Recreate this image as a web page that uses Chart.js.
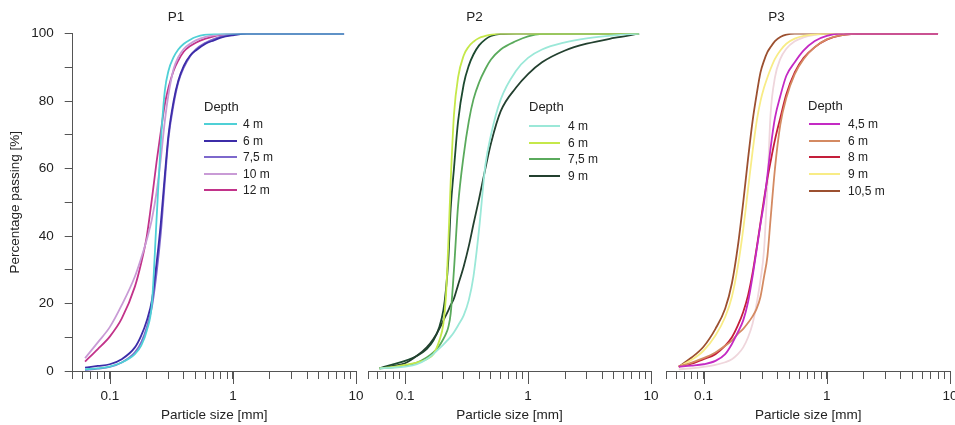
<!DOCTYPE html>
<html>
<head>
<meta charset="utf-8">
<script src="https://cdn.jsdelivr.net/npm/chart.js@4.4.1/dist/chart.umd.min.js"></script>
<style>
  html, body { margin: 0; padding: 0; background: #fff; width: 955px; height: 425px; overflow: hidden; }
  body { position: relative; font-family: "Liberation Sans", Arial, sans-serif; color: #222; }
  canvas { position: absolute; top: 0; }
  .lg { position: absolute; white-space: nowrap; line-height: 16px; height: 16px; }
  .sw { position: absolute; height: 2px; }
</style>
</head>
<body>
<canvas id="p1" width="370" height="425" style="left:-4px"></canvas>
<canvas id="p2" width="363" height="425" style="left:298px"></canvas>
<canvas id="p3" width="357" height="425" style="left:603px"></canvas>
<script>
// ===============================
// Data
// ===============================
const xTickValues = [0.05, 0.06, 0.07, 0.08, 0.09, 0.1, 0.2, 0.3, 0.4, 0.5, 0.6, 0.7, 0.8, 0.9,
  1, 2, 3, 4, 5, 6, 7, 8, 9, 10];
const xMajorTicks = [0.1, 1, 10];

// P1
const p1Sizes = [0.063, 0.08, 0.1, 0.125, 0.16, 0.18, 0.2, 0.22, 0.24, 0.26, 0.28, 0.3, 0.33, 0.36,
  0.4, 0.45, 0.5, 0.6, 0.7, 0.8, 1, 1.3, 2, 4, 8];
const p1Depth4 = [0.5, 0.8, 1.3, 2.5, 5, 7.5, 12, 20, 45, 68, 83, 89, 93, 95.3, 97, 98.2, 99, 99.7, 99.9, 100, 100, 100, 100, 100, 100];
const p1Depth6 = [1, 1.5, 2, 3.5, 7, 10.5, 15, 21, 32, 44, 58, 70, 80, 86, 90.5, 93.5, 95, 97, 98, 98.8, 99.5, 100, 100, 100, 100];
const p1Depth75 = [0.3, 0.7, 1.2, 2.5, 5.5, 8.5, 13, 19, 29, 41, 56, 69, 79, 85.5, 90, 93.3, 95.3, 97.3, 98.4, 99.1, 99.7, 100, 100, 100, 100];
const p1Depth10 = [3.8, 8.5, 13, 19.5, 28, 33.5, 39, 45, 53, 63, 74, 82, 89.5, 93, 95.5, 97, 98, 99, 99.5, 99.8, 100, 100, 100, 100, 100];
const p1Depth12 = [2.8, 6.5, 10.2, 15.5, 25, 32, 40, 51, 62, 71, 79, 84, 89, 92, 94.7, 96.3, 97.3, 98.5, 99.2, 99.6, 99.9, 100, 100, 100, 100];
const p1Labels = ["4 m", "6 m", "7,5 m", "10 m", "12 m"];
const p1Colors = ["#4fd0d6", "#3c2ca8", "#7d68cc", "#c99bd6", "#c2338a"];

// P2
const p2Sizes = [0.062, 0.08, 0.1, 0.125, 0.15, 0.17, 0.19, 0.205, 0.215, 0.225, 0.235, 0.25, 0.27, 0.3,
  0.33, 0.36, 0.4, 0.45, 0.5, 0.6, 0.8, 1, 1.3, 2, 3, 5, 8];
const p2Depth4 = [0.8, 1, 1.3, 2, 3.5, 5, 6.7, 7.8, 8.6, 9.4, 10.2, 11.5, 13.5, 16.5, 21, 28, 42, 61, 70, 80.5, 89, 92.8, 95.3, 97.4, 98.6, 99.5, 100];
const p2Depth6 = [0.8, 1.2, 1.8, 2.5, 3.5, 5, 9, 14, 22, 38, 56, 76, 87, 93.5, 96.2, 97.6, 98.7, 99.3, 99.7, 100, 100, 100, 100, 100, 100, 100, 100];
const p2Depth75 = [0.8, 1.1, 1.6, 2.5, 4, 5.5, 7.5, 9.5, 11, 13, 17, 30, 49, 64, 74, 80.5, 85.5, 89.5, 92.3, 95.3, 97.8, 99.2, 99.9, 100, 100, 100, 100];
const p2Depth9 = [0.8, 1.5, 2.3, 4.5, 7, 9.5, 12.5, 15, 16.5, 18, 19.5, 21.5, 25.5, 31, 37, 43.5, 51, 60, 67.5, 77, 84, 88, 91.5, 95, 97, 98.7, 100];
const p2Extra = [0.8, 2, 3, 4.5, 6.5, 9, 13, 18, 24, 33, 48, 60, 74, 85, 90.5, 93.8, 96.5, 98.3, 99.3, 99.9, 100, 100, 100, 100, 100, 100, 100];
const p2Labels = ["4 m", "6 m", "7,5 m", "9 m", ""];
const p2Colors = ["#9be8d8", "#c5e84a", "#5aaa5c", "#23402f", "#1d4a30"];

// P3
const p3Sizes = [0.063, 0.08, 0.1, 0.125, 0.15, 0.17, 0.19, 0.21, 0.23, 0.25, 0.27, 0.29, 0.31, 0.33,
  0.35, 0.38, 0.42, 0.47, 0.55, 0.65, 0.8, 1, 1.3, 2, 4, 8];
const p3Depth45 = [1.3, 1.6, 2, 3, 5, 8, 11.5, 15, 20.5, 28, 36, 43.5, 50, 58, 66, 75, 81.5, 87.5, 91.5, 95, 97.8, 99.3, 100, 100, 100, 100];
const p3Depth6 = [1.3, 2.5, 3.8, 5.5, 7.5, 9, 11, 12.5, 14.3, 16.2, 18.5, 22, 28, 34, 45, 60, 73, 81, 88, 92.5, 96, 98.3, 99.5, 100, 100, 100];
const p3Depth8 = [1.3, 2.2, 3.5, 5, 7.5, 10, 13.5, 17.5, 22.5, 29, 36.5, 44, 51, 57, 62, 68.5, 75, 82, 88.5, 92.8, 96, 98.2, 99.5, 100, 100, 100];
const p3Depth9 = [1.3, 3.3, 6, 10.5, 16, 22, 31, 42, 54, 65, 74, 80, 84, 87, 89.5, 92.5, 95, 97, 98.5, 99.3, 99.8, 100, 100, 100, 100, 100];
const p3Depth105 = [1.3, 4, 7.2, 12.5, 18.5, 26, 37, 50, 63, 74, 82, 88.5, 92, 94.5, 96, 97.8, 99, 99.7, 100, 100, 100, 100, 100, 100, 100, 100];
const p3Extra = [0.5, 0.8, 1.2, 1.8, 2.6, 3.5, 5, 7, 10, 14, 20, 27, 36, 55, 76, 87, 92.5, 95.5, 97.7, 98.9, 99.6, 100, 100, 100, 100, 100];
const p3Labels = ["4,5 m", "6 m", "8 m", "9 m", "10,5 m", ""];
const p3Colors = ["#c42ac4", "#d48a62", "#c41e3a", "#f8ec86", "#9c5030", "#efd6dc"];

// ===============================
// Style
// ===============================
const AXIS = "#555";
const TXT = "#222";
const FONT = '"Liberation Sans", Arial, sans-serif';

// marcas maiores em 0.1, 1, 10
const majorTickPlugin = {
  id: "majorTicks",
  afterDraw(chart) {
    const sc = chart.scales.x;
    const c = chart.ctx;
    c.save();
    c.strokeStyle = AXIS;
    c.lineWidth = 1;
    xMajorTicks.forEach(v => {
      const px = Math.round(sc.getPixelForValue(v)) + 0.5;
      c.beginPath();
      c.moveTo(px, sc.top);
      c.lineTo(px, sc.top + 13);
      c.stroke();
    });
    c.restore();
  }
};

function makePanel(id, title, sizes, seriesList, labels, colors, yWidth, showY) {
  const datasets = seriesList.map((vals, k) => ({
    label: labels[k],
    data: sizes.map((x, i) => ({ x: x, y: vals[i] })),
    borderColor: colors[k],
    backgroundColor: colors[k],
    borderWidth: 1.8,
    pointRadius: 0,
    fill: false,
    cubicInterpolationMode: "monotone"
  }));

  return new Chart(document.getElementById(id), {
    type: "line",
    data: { datasets: datasets },
    plugins: [majorTickPlugin],
    options: {
      responsive: false,
      animation: false,
      layout: { padding: { left: 0, right: 10, top: 0, bottom: 0 } },
      plugins: {
        legend: { display: false },
        tooltip: { enabled: false },
        title: {
          display: true,
          text: title,
          color: TXT,
          font: { family: FONT, size: 13.5, weight: "normal" },
          padding: { top: 9, bottom: 8.4 }
        }
      },
      scales: {
        x: {
          type: "logarithmic",
          min: 0.05,
          max: 10,
          afterBuildTicks: sc => {
            sc.ticks = xTickValues.map(v => ({ value: v }));
          },
          afterFit: sc => {
            sc.height = 54;
            sc.paddingLeft = 0;
            sc.paddingRight = 0;
          },
          ticks: {
            autoSkip: false,
            maxRotation: 0,
            padding: 9,
            color: TXT,
            font: { family: FONT, size: 13.5 },
            callback: v => (xMajorTicks.includes(v) ? String(v) : "")
          },
          grid: { drawOnChartArea: false, tickLength: 8, tickColor: AXIS },
          border: { color: AXIS },
          title: {
            display: true,
            text: "Particle size [mm]",
            color: TXT,
            font: { family: FONT, size: 13.5 },
            padding: { top: 0, bottom: 2 }
          }
        },
        y: {
          min: 0,
          max: 100,
          afterFit: sc => { sc.width = yWidth; },
          ticks: {
            display: showY,
            stepSize: 10,
            padding: 11,
            color: TXT,
            font: { family: FONT, size: 13.5 },
            callback: v => (v % 20 === 0 ? v : "")
          },
          grid: { display: showY, drawOnChartArea: false, tickLength: 8, tickColor: AXIS },
          border: { display: showY, color: AXIS },
          title: {
            display: showY,
            text: "Percentage passing [%]",
            color: TXT,
            font: { family: FONT, size: 13.5 },
            padding: { top: 11, bottom: 0 }
          }
        }
      }
    }
  });
}

// Legenda HTML ("Depth" + linhas)
function addLegend(x, y, swLeft, swW, txtLeft, firstRow, step, labels, colors) {
  const head = document.createElement("div");
  head.className = "lg";
  head.style.left = x + "px";
  head.style.top = (y - 8) + "px";
  head.style.fontSize = "13px";
  head.textContent = "Depth";
  document.body.appendChild(head);

  let row = 0;
  labels.forEach((lab, k) => {
    if (!lab) return;
    const cy = firstRow + step * row;
    const sw = document.createElement("div");
    sw.className = "sw";
    sw.style.left = swLeft + "px";
    sw.style.width = swW + "px";
    sw.style.top = (cy - 1) + "px";
    sw.style.background = colors[k];
    document.body.appendChild(sw);

    const t = document.createElement("div");
    t.className = "lg";
    t.style.left = txtLeft + "px";
    t.style.top = (cy - 8) + "px";
    t.style.fontSize = "12px";
    t.textContent = lab;
    document.body.appendChild(t);
    row++;
  });
}

document.addEventListener("DOMContentLoaded", () => {
  makePanel("p1", "P1", p1Sizes, [p1Depth4, p1Depth6, p1Depth75, p1Depth10, p1Depth12],
    p1Labels, p1Colors, 76.7, true);
  makePanel("p2", "P2", p2Sizes, [p2Depth4, p2Depth6, p2Depth75, p2Depth9, p2Extra],
    p2Labels, p2Colors, 70, false);
  makePanel("p3", "P3", p3Sizes, [p3Depth45, p3Depth6, p3Depth8, p3Depth9, p3Depth105, p3Extra],
    p3Labels, p3Colors, 63.4, false);

  addLegend(204, 107, 204, 33, 243, 124, 16.6, p1Labels, p1Colors);
  addLegend(529, 107, 529, 31, 568, 126, 16.7, p2Labels, p2Colors);
  addLegend(808, 106, 809, 31, 848, 124, 16.7, p3Labels, p3Colors);
});
</script>
</body>
</html>
